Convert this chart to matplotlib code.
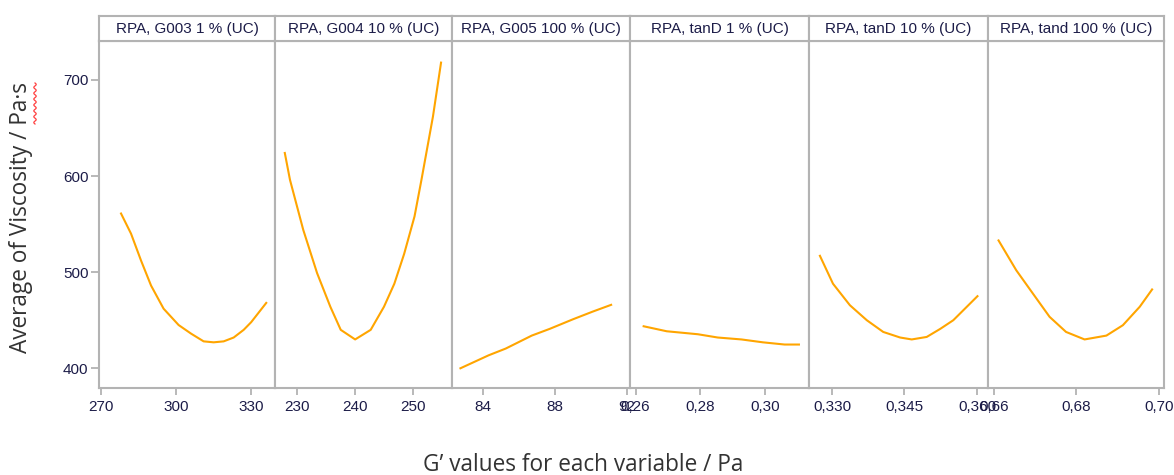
import numpy as np
import matplotlib
matplotlib.use("Agg")
import matplotlib.pyplot as plt
from matplotlib.lines import Line2D

# profile curves: G' value of each variable vs mean viscosity
titles = ["RPA, G003 1 % (UC)", "RPA, G004 10 % (UC)", "RPA, G005 100 % (UC)",
          "RPA, tanD 1 % (UC)", "RPA, tanD 10 % (UC)", "RPA, tand 100 % (UC)"]

g003_x = [278, 282, 286, 290, 295, 301, 306, 311, 315, 319, 323, 327, 330, 336]
g003_y = [561, 540, 512, 486, 462, 445, 436, 428, 427, 428, 432, 440, 448, 468]

g004_x = [227.8, 228.7, 231, 233.4, 235.7, 237.5, 240, 242.7, 245, 246.8, 248.5, 250.3, 251.5, 253.5, 254.9]
g004_y = [624, 596, 544, 499, 464, 440, 430, 440, 464, 488, 519, 558, 596, 662, 718]

g005_x = [82.73, 84.3, 85.25, 86.7, 87.7, 89.0, 90.1, 91.12]
g005_y = [400, 413.5, 420.5, 434, 441, 451, 459, 466]

tand1_x = [0.2625, 0.2696, 0.2792, 0.2853, 0.2926, 0.2992, 0.3059, 0.3103]
tand1_y = [443.7, 438.5, 435.4, 432, 430, 427, 424.7, 424.7]

tand10_x = [0.3275, 0.3302, 0.3337, 0.3372, 0.3406, 0.3441, 0.3465, 0.3496, 0.3524, 0.3551, 0.3579, 0.3601]
tand10_y = [517, 488, 465.6, 450, 437.8, 432, 430, 432.6, 441, 450, 464, 475]

tand100_x = [0.6611, 0.6654, 0.6694, 0.6735, 0.6775, 0.6820, 0.6873, 0.6913, 0.6954, 0.6984]
tand100_y = [533, 502, 478, 453.5, 437.8, 430, 434, 444.8, 464, 482]

xs = [g003_x, g004_x, g005_x, tand1_x, tand10_x, tand100_x]
ys = [g003_y, g004_y, g005_y, tand1_y, tand10_y, tand100_y]

x_ticks = [[270, 300, 330], [230, 240, 250], [84, 88, 92],
           [0.26, 0.28, 0.30], [0.330, 0.345, 0.360], [0.66, 0.68, 0.70]]
x_ticklabels = [["270", "300", "330"], ["230", "240", "250"], ["84", "88", "92"],
                ["0,26", "0,28", "0,30"], ["0,330", "0,345", "0,360"], ["0,66", "0,68", "0,70"]]
x_limits = [(269.2, 339.5), (226.1, 256.8), (82.26, 92.17),
            (0.2583, 0.3134), (0.32524, 0.36228), (0.65854, 0.70129)]

y_ticks = [400, 500, 600, 700]

W, H = 1174, 475
fig = plt.figure(figsize=(W / 100, H / 100), dpi=100)

edges = [99, 275, 452, 630, 809, 988, 1164]
plot_top, plot_bottom, head_top = 40.5, 387.5, 16

frame = "#b3b3b3"
orange = "#ffa500"
ink = "#1c1c48"
small = ["Liberation Sans", "DejaVu Sans"]
label_font = ["Open Sans", "DejaVu Sans"]

for i in range(6):
    left = edges[i] / W
    width = (edges[i + 1] - edges[i]) / W
    ax = fig.add_axes([left, 1 - plot_bottom / H, width, (plot_bottom - plot_top) / H])
    ax.plot(xs[i], ys[i], color=orange, lw=1.5, solid_joinstyle="round")
    ax.set_xlim(*x_limits[i])
    ax.set_ylim(380, 741)
    for sp in ax.spines.values():
        sp.set_color(frame)
        sp.set_linewidth(1.5)
    ax.set_xticks(x_ticks[i])
    ax.set_xticklabels(x_ticklabels[i], family=small, fontsize=11, color=ink)
    ax.tick_params(axis="x", direction="out", length=5, width=1.3, color=frame, pad=4)
    if i == 0:
        ax.set_yticks(y_ticks)
        ax.set_yticklabels([str(v) for v in y_ticks], family=small, fontsize=11, color=ink)
        ax.tick_params(axis="y", direction="out", length=6, width=1.3, color=frame, pad=1.5)
    else:
        ax.set_yticks([])

    # header strip with the variable name
    hx = fig.add_axes([left, 1 - plot_top / H, width, (plot_top - head_top) / H])
    hx.set_xticks([])
    hx.set_yticks([])
    for sp in hx.spines.values():
        sp.set_color(frame)
        sp.set_linewidth(1.5)
    hx.text(0.5, 0.45, titles[i], ha="center", va="center", family=small,
            fontsize=11, color=ink, transform=hx.transAxes)

fig.text(583 / W, 1 - 465 / H, "G\u2019 values for each variable / Pa", ha="center", va="center",
         family=label_font, fontsize=16.3, color="#333333")
fig.text(21 / W, 1 - 218 / H, "Average of Viscosity / Pa\u00b7s", ha="center", va="center",
         rotation=90, family=label_font, fontsize=16.3, color="#333333")

# spell-check squiggle beside the unit
sq_y = np.linspace(83, 124, 80)
sq_x = 35 + 1.2 * np.sin((sq_y - 83) / 41 * 2 * np.pi * 7)
fig.add_artist(Line2D(sq_x / W, 1 - sq_y / H, color="#ff4040", lw=0.9,
                      transform=fig.transFigure))

fig.savefig("out.png", dpi=100)
